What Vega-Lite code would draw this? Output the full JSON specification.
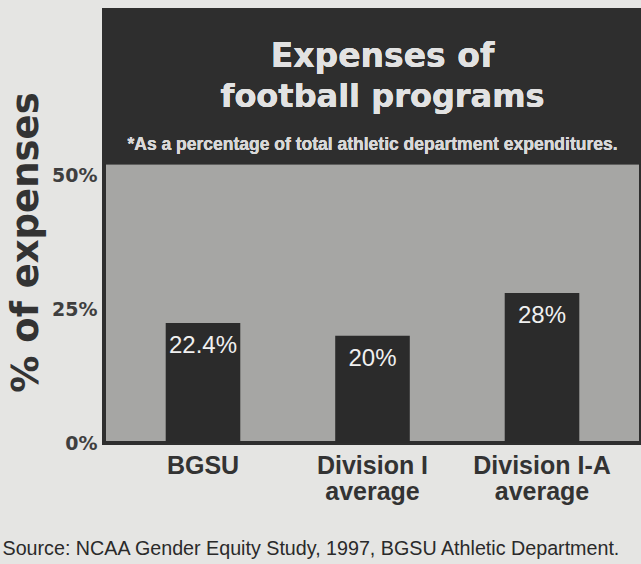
{
  "$schema": "https://vega.github.io/schema/vega-lite/v6.json",
  "autosize": {"type": "none"},
  "padding": {"left": 104, "top": 10, "right": 0, "bottom": 121},
  "width": 537,
  "height": 433,
  "background": "#e5e5e3",
  "config": {
    "view": {"fill": "#a6a6a4", "stroke": "#2e2e2e", "strokeWidth": 4},
    "font": "Liberation Sans"
  },
  "title": {
    "text": "Source: NCAA Gender Equity Study, 1997, BGSU Athletic Department.",
    "orient": "bottom",
    "anchor": "start",
    "frame": "bounds",
    "font": "Liberation Sans",
    "fontSize": 19.7,
    "fontWeight": "normal",
    "color": "#2a2a2a",
    "offset": 35,
    "dx": -5
  },
  "data": {
    "values": [
      {"group": "BGSU", "pct": 22.4, "label": "22.4%"},
      {"group": "Division I average", "pct": 20, "label": "20%"},
      {"group": "Division I-A average", "pct": 28, "label": "28%"}
    ]
  },
  "layer": [
    {
      "mark": {"type": "rect", "color": "#2e2e2e"},
      "encoding": {
        "y": {"datum": 52, "type": "quantitative"},
        "y2": {"datum": 80.8}
      }
    },
    {
      "mark": {"type": "bar", "color": "#2b2b2b", "width": {"band": 0.44}},
      "encoding": {
        "x": {
          "field": "group",
          "type": "nominal",
          "sort": null,
          "title": null,
          "scale": {"paddingInner": 0, "paddingOuter": 0.084},
          "axis": {
            "ticks": false,
            "domain": false,
            "labelAngle": 0,
            "labelBaseline": "middle",
            "labelPadding": 22,
            "labelFontSize": 25,
            "labelFontWeight": "bold",
            "labelColor": "#333333",
            "labelLimit": 0,
            "labelOverlap": false,
            "labelLineHeight": 26,
            "labelExpr": "datum.label == 'BGSU' ? 'BGSU' : [slice(datum.label, 0, indexof(datum.label, ' average')), 'average']"
          }
        },
        "y": {
          "field": "pct",
          "type": "quantitative",
          "title": "% of expenses",
          "scale": {"domain": [0, 80.8], "nice": false},
          "axis": {
            "values": [0, 25, 50],
            "grid": false,
            "ticks": false,
            "domain": false,
            "labelExpr": "datum.value + '%'",
            "labelFont": "DejaVu Sans",
            "labelFontSize": 19,
            "labelFontWeight": "bold",
            "labelColor": "#3f3f3f",
            "labelPadding": 7,
            "titleFont": "DejaVu Sans",
            "titleFontSize": 37,
            "titleFontWeight": "bold",
            "titleColor": "#333333",
            "titlePadding": 6,
            "titleY": 232
          }
        }
      }
    },
    {
      "mark": {"type": "text", "color": "#f0f0f0", "fontSize": 24, "dy": 23, "baseline": "middle"},
      "encoding": {
        "x": {"field": "group", "type": "nominal", "sort": null},
        "y": {"field": "pct", "type": "quantitative"},
        "text": {"field": "label", "type": "nominal"}
      }
    },
    {
      "mark": {"type": "text", "color": "#e2e2e2", "font": "DejaVu Sans", "fontWeight": "bold", "fontSize": 33, "baseline": "middle", "dx": 10},
      "encoding": {
        "y": {"datum": 72.0, "type": "quantitative"},
        "text": {"value": "Expenses of"}
      }
    },
    {
      "mark": {"type": "text", "color": "#e2e2e2", "font": "DejaVu Sans", "fontWeight": "bold", "fontSize": 32, "baseline": "middle", "dx": 10},
      "encoding": {
        "y": {"datum": 64.6, "type": "quantitative"},
        "text": {"value": "football programs"}
      }
    },
    {
      "mark": {"type": "text", "color": "#d8d8d8", "font": "Liberation Sans", "fontWeight": "bold", "fontSize": 17.5, "baseline": "middle"},
      "encoding": {
        "y": {"datum": 55.6, "type": "quantitative"},
        "text": {"value": "*As a percentage of total athletic department expenditures."}
      }
    }
  ]
}
